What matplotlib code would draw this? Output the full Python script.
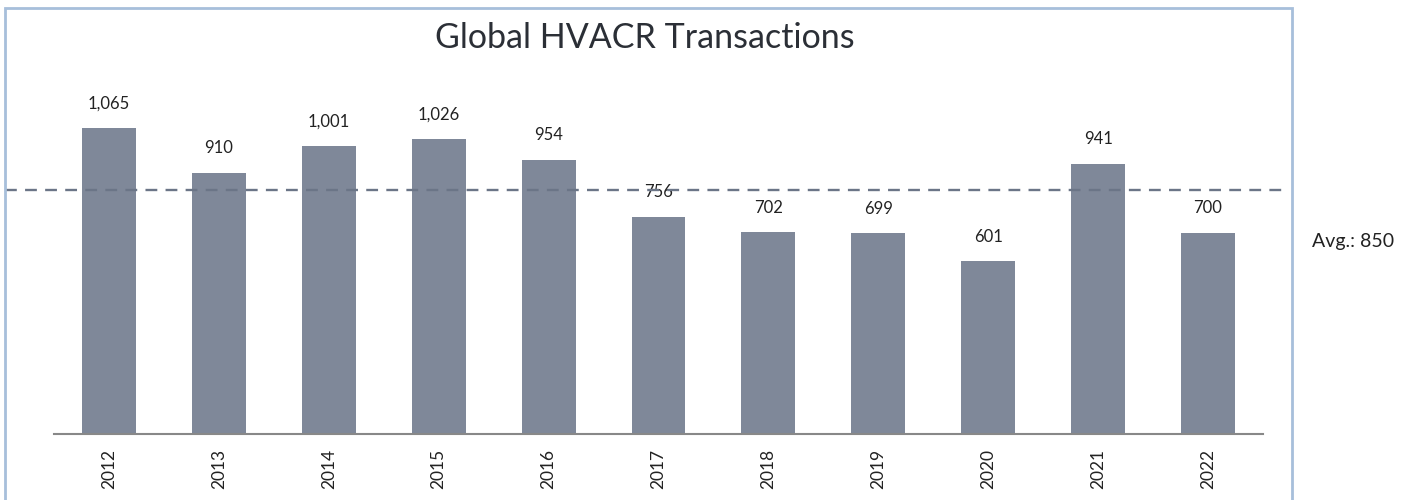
import matplotlib
matplotlib.use('Agg')
import matplotlib.pyplot as plt
from matplotlib.patches import Rectangle

years = ['2012', '2013', '2014', '2015', '2016', '2017', '2018', '2019', '2020', '2021', '2022']
deals = [1065, 910, 1001, 1026, 954, 756, 702, 699, 601, 941, 700]
avg = 850

plt.rcParams['font.family'] = ['Lato', 'DejaVu Sans']

W, H = 1406, 500
fig = plt.figure(figsize=(W/100, H/100), dpi=100)

# outer frame
fig.patches.append(Rectangle((5/W, -0.01), (1292-5)/W, 1 - 8/H + 0.01,
                             transform=fig.transFigure, fill=False,
                             edgecolor='#A7BFDB', linewidth=2))

ax = fig.add_axes([54/W, (H-434)/H, (1263-54)/W, 434/H])
x = range(len(years))
ax.bar(x, deals, width=0.49, color='#7F8899')
ax.set_xlim(-0.5, 10.5)
ax.set_ylim(0, 434/0.2873)

for i, v in enumerate(deals):
    ax.annotate(f'{v:,}', (i, v), xytext=(0, 12), textcoords='offset points',
                ha='center', va='bottom', fontsize=12, color='#222222')

ax.axhline(avg, xmin=(5-54)/1209, xmax=(1287-54)/1209, color='#6B7587',
           linewidth=1.7, dashes=(5, 3.5), clip_on=False, zorder=3)
ax.text((1312-54)/1209, 1 - 242/434, f'Avg.: {avg}', transform=ax.transAxes,
        ha='left', va='center', fontsize=14, color='#222222')

for s in ['top', 'right', 'left']:
    ax.spines[s].set_visible(False)
ax.spines['bottom'].set_color('#888888')
ax.spines['bottom'].set_linewidth(1.5)
ax.set_yticks([])
ax.set_xticks(list(x))
ax.set_xticklabels(years, rotation=90, fontsize=12.5, color='#222222')
ax.tick_params(axis='x', length=0, pad=11)

fig.text(645/W, 1 - 38/H, 'Global HVACR Transactions', ha='center', va='center',
         fontsize=24.5, color='#2B2F36')

fig.savefig('out.png', dpi=100)
